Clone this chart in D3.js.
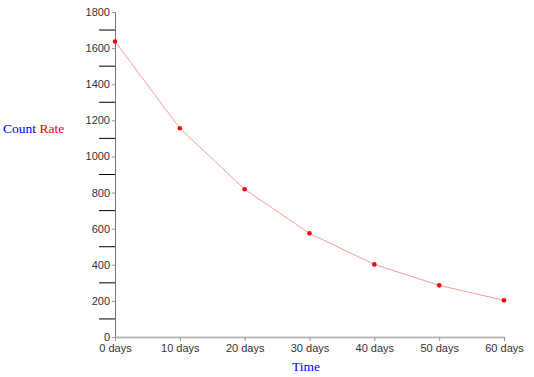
<!DOCTYPE html>
<html>
<head>
<meta charset="utf-8">
<script src="https://cdn.jsdelivr.net/npm/d3@7"></script>
<style>
  body { margin: 0; background: #fff; }
</style>
</head>
<body>
<div id="my_dataviz"></div>
<script>
var days = [0, 10, 20, 30, 40, 50, 60];
var dayLabels = ["0 days", "10 days", "20 days", "30 days", "40 days", "50 days", "60 days"];
var countRate = [1637, 1156, 818, 574, 402, 286, 203];
var yMajorTicks = [0, 200, 400, 600, 800, 1000, 1200, 1400, 1600, 1800];
var yMinorTicks = [100, 300, 500, 700, 900, 1100, 1300, 1500, 1700];

var margin = {top: 12, right: 30, bottom: 40, left: 115},
    width = 534 - margin.left - margin.right,
    height = 377 - margin.top - margin.bottom;

var svg = d3.select("#my_dataviz")
  .append("svg")
    .attr("width", 534)
    .attr("height", 377);

var g = svg.append("g")
    .attr("transform", "translate(" + margin.left + "," + margin.top + ")");

var x = d3.scaleLinear()
  .domain([0, 60])
  .range([0, 389]);

var y = d3.scaleLinear()
  .domain([0, 1800])
  .range([325, 0]);

// minor ticks: long dark lines left of the axis
g.selectAll(".minor")
  .data(yMinorTicks)
  .enter()
  .append("line")
    .attr("x1", -16)
    .attr("x2", 0)
    .attr("y1", function(d) { return y(d); })
    .attr("y2", function(d) { return y(d); })
    .attr("stroke", "#000")
    .attr("stroke-width", 1);

// y axis
var yAxis = g.append("g")
  .call(d3.axisLeft(y).tickValues(yMajorTicks).tickFormat(d3.format("d")).tickSize(3).tickPadding(2));
yAxis.select(".domain").attr("stroke", "#777").attr("stroke-width", 1);
yAxis.selectAll(".tick line").attr("stroke", "#999");
yAxis.selectAll("text")
  .attr("fill", "#333")
  .style("font-family", "Liberation Sans, Arial, sans-serif")
  .style("font-size", "11px");

// x axis
var xAxis = g.append("g")
  .attr("transform", "translate(0,325)")
  .call(d3.axisBottom(x).tickValues(days).tickFormat(function(d, i) { return dayLabels[i]; }).tickSize(4).tickSizeOuter(0).tickPadding(3));
xAxis.select(".domain").attr("stroke", "#bbb").attr("stroke-width", 2);
xAxis.selectAll(".tick line").attr("stroke", "#999");
xAxis.selectAll("text")
  .attr("fill", "#333")
  .style("font-family", "Liberation Sans, Arial, sans-serif")
  .style("font-size", "11px");

// line
var line = d3.line()
  .x(function(d, i) { return x(days[i]); })
  .y(function(d) { return y(d); })
  .curve(d3.curveLinear);

g.append("path")
  .datum(countRate)
  .attr("fill", "none")
  .attr("stroke", "#ff9a9a")
  .attr("stroke-width", 1)
  .attr("d", line);

g.selectAll(".dot")
  .data(countRate)
  .enter()
  .append("circle")
    .attr("cx", function(d, i) { return x(days[i]); })
    .attr("cy", function(d) { return y(d); })
    .attr("r", 2.3)
    .attr("fill", "#ff0000");

// titles
var yTitle = svg.append("text")
  .attr("x", 3)
  .attr("y", 133)
  .style("font-family", "Liberation Serif, Times New Roman, serif")
  .style("font-size", "13.5px");
yTitle.append("tspan").attr("fill", "#0000ff").text("Count");
yTitle.append("tspan").attr("fill", "#ff0000").text(" Rate");

svg.append("text")
  .attr("x", 306)
  .attr("y", 371)
  .attr("text-anchor", "middle")
  .attr("fill", "#0000ff")
  .style("font-family", "Liberation Serif, Times New Roman, serif")
  .style("font-size", "13.5px")
  .text("Time");
</script>
</body>
</html>
